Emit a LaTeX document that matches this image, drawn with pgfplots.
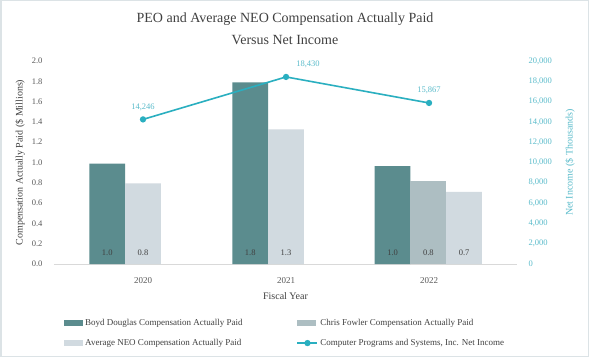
\documentclass[border=0pt]{standalone}
\usepackage{pgfplots}
\pgfplotsset{compat=1.18}
\usepackage{fontspec}
\setmainfont{Liberation Serif}
\definecolor{boyd}{HTML}{5B8C8E}
\definecolor{chris}{HTML}{ADBEC2}
\definecolor{avgneo}{HTML}{D1DAE0}
\definecolor{netc}{HTML}{2AAFC0}
\definecolor{netlab}{HTML}{5BBCCB}
\definecolor{frame}{HTML}{DCE3E6}
\definecolor{txt}{HTML}{404040}
\definecolor{ticktxt}{HTML}{595959}
\definecolor{base}{HTML}{D9D9D9}
\begin{document}
\begin{tikzpicture}[x=1pt,y=1pt]
\useasboundingbox (0,0) rectangle (589,357);
\fill[white] (0,0) rectangle (589,357);
\draw[frame, line width=1.5pt] (0.75,0.75) rectangle (588.25,356.25);
\node[font=\fontsize{14}{16}\selectfont, text=txt] at (285,338) {PEO and Average NEO Compensation Actually Paid};
\node[font=\fontsize{14}{16}\selectfont, text=txt] at (285,317) {Versus Net Income};
\begin{axis}[
  at={(54pt,93pt)}, anchor=south west,
  width=463pt, height=203pt, scale only axis,
  xmin=-0.6224, xmax=2.615, ymin=0, ymax=2,
  axis x line*=bottom, axis y line*=left,
  x axis line style={draw=base, line width=0.8pt, -},
  y axis line style={draw=none},
  major tick length=0pt,
  xtick={0,1,2}, xticklabels={2020,2021,2022},
  ytick={0,0.2,0.4,0.6,0.8,1.0,1.2,1.4,1.6,1.8,2.0},
  /pgf/number format/assume math mode=true,
  yticklabel style={/pgf/number format/fixed, /pgf/number format/fixed zerofill, /pgf/number format/precision=1,
    font=\fontsize{8.5}{9}\selectfont, text=ticktxt, xshift=-8pt},
  xticklabel style={font=\fontsize{9}{10}\selectfont, text=ticktxt, yshift=-10pt},
  ylabel={Compensation Actually Paid (\$ Millions)},
  ylabel style={at={(axis description cs:-0.0734,0.5)}, anchor=center, font=\fontsize{10}{12}\selectfont, text=txt},
  xlabel={Fiscal Year},
  xlabel style={at={(axis description cs:0.5,-0.1576)}, anchor=center, font=\fontsize{10}{12}\selectfont, text=txt},
  legend columns=2,
  legend cell align=left,
  legend style={at={(axis description cs:0.0151,-0.25)}, anchor=north west, draw=none, fill=none,
    font=\fontsize{9}{11}\selectfont, text=txt, row sep=8.5pt,
    /tikz/every even column/.append style={column sep=52pt}},
]
\addplot[ybar, bar width=0.25, bar shift=0pt, fill=boyd, draw=none,
  legend image code/.code={\fill[boyd] (0pt,-3pt) rectangle (19pt,3pt);}]
  coordinates {(-0.25,0.99) (0.75,1.79) (1.745,0.965)};
\addlegendentry{Boyd Douglas Compensation Actually Paid}
\addplot[ybar, bar width=0.25, bar shift=0pt, fill=chris, draw=none,
  legend image code/.code={\fill[chris] (0pt,-3pt) rectangle (19pt,3pt);}]
  coordinates {(1.995,0.815)};
\addlegendentry{Chris Fowler Compensation Actually Paid}
\addplot[ybar, bar width=0.25, bar shift=0pt, fill=avgneo, draw=none,
  legend image code/.code={\fill[avgneo] (0pt,-3pt) rectangle (19pt,3pt);}]
  coordinates {(0,0.795) (1,1.327) (2.245,0.71)};
\addlegendentry{Average NEO Compensation Actually Paid}
\addlegendimage{draw=netc, line width=1.6pt, legend image code/.code={\draw[netc, line width=1.6pt] (0pt,0pt) -- (20pt,0pt); \fill[netc] (10pt,0pt) circle (2.3pt);}}
\addlegendentry{Computer Programs and Systems, Inc. Net Income}
\addplot[draw=none, mark=none, forget plot, nodes near coords, point meta=explicit symbolic,
  every node near coord/.style={anchor=center, yshift=11pt, font=\fontsize{8.5}{9}\selectfont, text=txt}]
  coordinates {(-0.25,0) [1.0] (0,0) [0.8] (0.75,0) [1.8] (1,0) [1.3] (1.745,0) [1.0] (1.995,0) [0.8] (2.245,0) [0.7]};
\end{axis}
\begin{axis}[
  at={(54pt,93pt)}, anchor=south west,
  width=463pt, height=203pt, scale only axis,
  xmin=-0.6224, xmax=2.615, ymin=0, ymax=20000,
  axis x line=none, axis y line*=right,
  y axis line style={draw=none},
  major tick length=0pt,
  ytick={0,2000,4000,6000,8000,10000,12000,14000,16000,18000,20000},
  scaled y ticks=false,
  /pgf/number format/assume math mode=true,
  yticklabel style={/pgf/number format/fixed, /pgf/number format/1000 sep={,},
    font=\fontsize{8.5}{9}\selectfont, text=netlab, xshift=8pt},
  ylabel={Net Income (\$ Thousands)},
  ylabel style={at={(axis description cs:1.1145,0.5)}, anchor=center, rotate=0, font=\fontsize{10}{12}\selectfont, text=netlab},
]
\addplot[netc, line width=1.6pt, mark=*, mark size=2.3pt, mark options={fill=netc, draw=netc}]
  coordinates {(0,14246) (1,18430) (2,15867)};
\addplot[draw=none, mark=none, nodes near coords, point meta=explicit symbolic,
  every node near coord/.style={anchor=center, yshift=12.5pt, font=\fontsize{8.5}{9}\selectfont, text=netlab}]
  coordinates {(0,14246) [{14,246}] (2,15867) [{15,867}]};
\addplot[draw=none, mark=none, nodes near coords, point meta=explicit symbolic,
  every node near coord/.style={anchor=center, yshift=12.5pt, xshift=22pt, font=\fontsize{8.5}{9}\selectfont, text=netlab}]
  coordinates {(1,18430) [{18,430}]};
\end{axis}
\end{tikzpicture}
\end{document}
